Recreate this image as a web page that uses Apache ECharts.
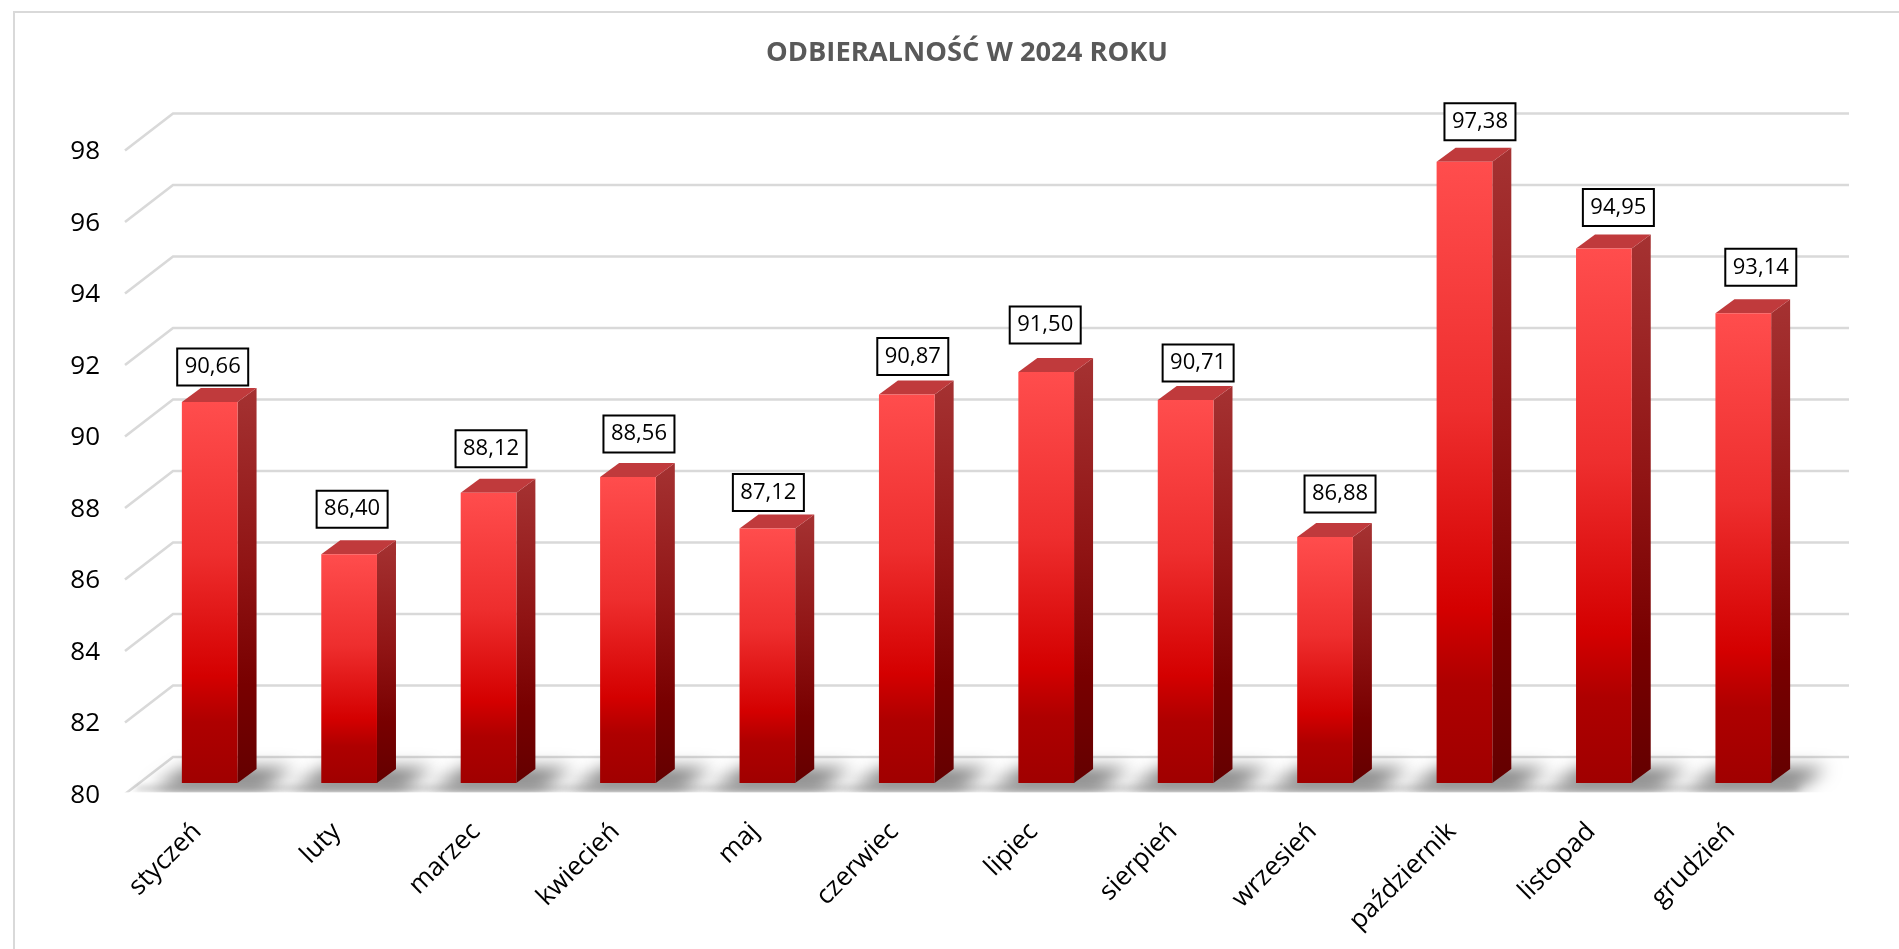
<!DOCTYPE html>
<html>
<head>
<meta charset="utf-8">
<script src="https://cdn.jsdelivr.net/npm/echarts@6/dist/echarts.min.js"></script>
<style>html,body{margin:0;padding:0;background:#fff}#c{width:1899px;height:949px}</style>
</head>
<body>
<div id="c"></div>
<script>
const titleText = 'ODBIERALNOŚĆ W 2024 ROKU';
const months = ['styczeń','luty','marzec','kwiecień','maj','czerwiec','lipiec','sierpień','wrzesień','październik','listopad','grudzień'];
const values = [90.66,86.40,88.12,88.56,87.12,90.87,91.50,90.71,86.88,97.38,94.95,93.14];
const gridValues = [80,82,84,86,88,90,92,94,96,98];
// hand-placed data label offsets as in the original (px from the bar's top front centre)
const labelDx = [3,3,2.5,11,1,6,-1,12.5,15,15.5,14.5,17.5];
const labelDy = [-35,-45,-44,-43,-36,-38,-47,-37,-43,-40,-41,-46];

const FONT = '"Open Sans"';
const WALL_X = 48, WALL_Y = 37;      // oblique depth of the chart floor
const BAR_X = 15, BAR_Y = 11;        // bar front face set back from the front edge
const DEPTH_X = 19, DEPTH_Y = 14;    // bar depth
const BAR_W = 55.7, OFF = 5000;

const grad = (stops) => new echarts.graphic.LinearGradient(0,0,0,1,stops.map(s=>({offset:s[0],color:s[1]})));

const chart = echarts.init(document.getElementById('c'), null, {renderer:'canvas'});

function renderGrid(params, api){
  const cs = params.coordSys;
  const y = api.coord([0, api.value(1)])[1];
  const l = cs.x, r = cs.x + cs.width;
  return {type:'polyline', shape:{points:[[l,y],[l+WALL_X,y-WALL_Y],[r+WALL_X+3,y-WALL_Y]]},
    style:{fill:null, stroke:'#d9d9d9', lineWidth:2.6}};
}
function renderFloor(params, api){
  const cs = params.coordSys;
  const y0 = cs.y + cs.height, l = cs.x, r = cs.x + cs.width;
  return {type:'polygon', shape:{points:[[l+8-OFF,y0-3],[r-2-OFF,y0-3],[r+4-OFF,y0-8],[l+14-OFF,y0-8]]},
    style:{fill:'#000', shadowColor:'rgba(0,0,0,0.2)', shadowBlur:6, shadowOffsetX:OFF}};
}
function renderShadow(params, api){
  const c = api.coord([api.value(0), 80]);
  const cx = c[0] + BAR_X, by = c[1] - BAR_Y;
  const l = cx - BAR_W/2, r = cx + BAR_W/2;
  return {type:'polygon', shape:{points:[
      [l-30-OFF, by+6],[r+25-OFF, by+6],[r+56-OFF, by-15],[l+4-OFF, by-15]]},
    style:{fill:'#000', shadowColor:'rgba(0,0,0,0.52)', shadowBlur:17, shadowOffsetX:OFF}};
}
function renderMask(params, api){
  const cs = params.coordSys;
  const y0 = cs.y + cs.height;
  return {type:'rect', shape:{x:cs.x-8, y:y0-1.5, width:cs.width+70, height:20},
    style:{fill:'#fff', shadowColor:'#fff', shadowBlur:2}};
}
function renderBar(params, api){
  const i = params.dataIndex;
  const top = api.coord([api.value(0), api.value(1)]);
  const bot = api.coord([api.value(0), 80]);
  const cx = top[0] + BAR_X, ty = top[1] - BAR_Y, by = bot[1] - BAR_Y;
  const l = cx - BAR_W/2, r = cx + BAR_W/2;
  const txt = values[i].toFixed(2).replace('.',',');
  const bx = cx + labelDx[i], bm = ty + labelDy[i];
  return {type:'group', children:[
    {type:'polygon', shape:{points:[[r,ty],[r+DEPTH_X,ty-DEPTH_Y],[r+DEPTH_X,by-DEPTH_Y],[r,by]]},
     style:{fill:grad([[0,'#a53232'],[0.45,'#901414'],[0.75,'#780000'],[1,'#640000']])}},
    {type:'polygon', shape:{points:[[l,ty],[r,ty],[r+DEPTH_X,ty-DEPTH_Y],[l+DEPTH_X,ty-DEPTH_Y]]},
     style:{fill:'#c03a3c'}},
    {type:'rect', shape:{x:l,y:ty,width:BAR_W,height:by-ty},
     style:{fill:grad([[0,'#ff4d4d'],[0.4,'#ee2e2e'],[0.72,'#d40000'],[0.84,'#ae0000'],[1,'#a00000'] ])}},
    {type:'rect', shape:{x:bx-35.5,y:bm-18.5,width:71,height:37},
     style:{fill:'#fff', stroke:'#000', lineWidth:2}},
    {type:'text', style:{x:bx,y:bm,text:txt,fill:'#000',font:'22px '+FONT,align:'center',verticalAlign:'middle'}}
  ]};
}

chart.setOption({
  animation:false,
  backgroundColor:'#fff',
  title:{text:titleText, left:962, top:35, textAlign:'center',
    textStyle:{fontFamily:FONT,fontWeight:'bold',fontSize:27.3,color:'#595959'}},
  graphic:[{type:'rect', silent:true, z:-1,
    shape:{x:14,y:12,width:2000,height:1000}, style:{fill:'none',stroke:'#d9d9d9',lineWidth:2}}],
  grid:{left:125, top:150.5, width:1673, height:643.5, containLabel:false},
  xAxis:{type:'category', z:5, data:months, axisLine:{show:false}, axisTick:{show:false}, splitLine:{show:false},
    axisLabel:{rotate:45, interval:0, margin:31, formatter:v=>`{a|${v}}`, fontFamily:FONT, fontSize:26, color:'#000',
      rich:{a:{fontFamily:FONT, fontSize:26, color:'#000', padding:[7,0,0,0]}}}},
  yAxis:{type:'value', z:5, min:80, max:98, interval:2, axisLine:{show:false}, axisTick:{show:false}, splitLine:{show:false},
    axisLabel:{margin:25, formatter:v=>`{a|${v}}`, fontFamily:FONT, fontSize:26, color:'#000',
      rich:{a:{fontFamily:FONT, fontSize:26, color:'#000', padding:[3,0,0,0]}}}},
  series:[
    {type:'custom', z:1, silent:true, renderItem:renderGrid, encode:{x:0,y:1}, data:gridValues.map(v=>[0,v])},
    {type:'custom', z:2, silent:true, renderItem:renderFloor, encode:{x:0,y:1}, data:[[0,80]]},
    {type:'custom', z:2, silent:true, renderItem:renderShadow, encode:{x:0,y:1}, data:values.map((v,i)=>[i,80])},
    {type:'custom', z:2, silent:true, renderItem:renderMask, encode:{x:0,y:1}, data:[[0,80]]},
    {type:'custom', z:3, silent:true, renderItem:renderBar, encode:{x:0,y:1}, data:values.map((v,i)=>[i,v])}
  ]
});
</script>
</body>
</html>
